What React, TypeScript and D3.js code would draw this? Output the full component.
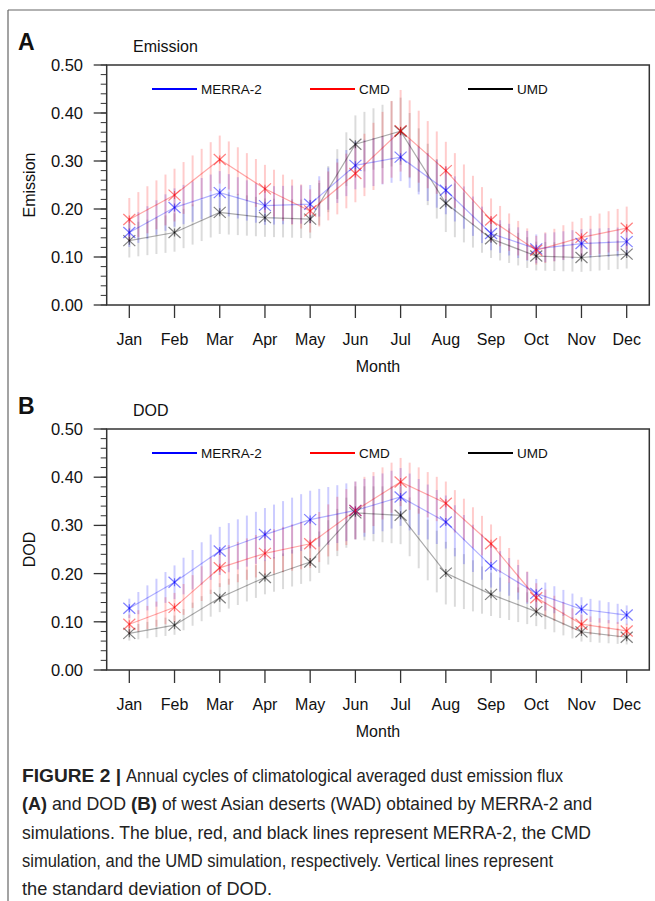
import React from "react";
import * as d3 from "d3";

const months = ["Jan", "Feb", "Mar", "Apr", "May", "Jun", "Jul", "Aug", "Sep", "Oct", "Nov", "Dec"];
const yTicks = [0, 0.1, 0.2, 0.3, 0.4, 0.5];
const seriesNames = ["MERRA-2", "CMD", "UMD"];
const seriesColors = ["#0000ff", "#ff0000", "#000000"];

// Panel A: Emission
const emisMerra = [0.151, 0.203, 0.234, 0.207, 0.21, 0.291, 0.308, 0.239, 0.149, 0.117, 0.128, 0.132];
const emisCmd = [0.178, 0.229, 0.303, 0.242, 0.196, 0.274, 0.363, 0.28, 0.177, 0.114, 0.141, 0.16];
const emisUmd = [0.134, 0.151, 0.193, 0.182, 0.179, 0.335, 0.362, 0.212, 0.138, 0.102, 0.099, 0.106];
const emisMerraSd = [0.03, 0.04, 0.045, 0.04, 0.04, 0.05, 0.05, 0.05, 0.035, 0.03, 0.03, 0.03];
const emisCmdSd = [0.045, 0.055, 0.05, 0.05, 0.045, 0.06, 0.085, 0.06, 0.045, 0.03, 0.04, 0.045];
const emisUmdSd = [0.035, 0.04, 0.045, 0.04, 0.04, 0.06, 0.07, 0.06, 0.04, 0.03, 0.03, 0.03];

// Panel B: DOD
const dodMerra = [0.128, 0.182, 0.247, 0.281, 0.312, 0.331, 0.359, 0.307, 0.216, 0.159, 0.126, 0.114];
const dodCmd = [0.095, 0.13, 0.212, 0.242, 0.262, 0.331, 0.39, 0.346, 0.262, 0.15, 0.095, 0.081];
const dodUmd = [0.076, 0.093, 0.15, 0.192, 0.224, 0.326, 0.321, 0.201, 0.157, 0.121, 0.079, 0.068];
const dodMerraSd = [0.02, 0.035, 0.05, 0.055, 0.06, 0.06, 0.06, 0.055, 0.045, 0.03, 0.025, 0.02];
const dodCmdSd = [0.02, 0.03, 0.04, 0.045, 0.05, 0.06, 0.05, 0.045, 0.04, 0.03, 0.02, 0.015];
const dodUmdSd = [0.015, 0.02, 0.03, 0.035, 0.04, 0.055, 0.06, 0.065, 0.045, 0.03, 0.02, 0.015];

// Caption segments: [line, text, bold, x0, x1]
const captionSegs: [number, string, boolean, number, number][] = [
  [0, "FIGURE 2 |", true, 22, 121],
  [0, "Annual cycles of climatological averaged dust emission flux", false, 126, 563],
  [1, "(A)", true, 22, 47],
  [1, "and DOD", false, 52, 126],
  [1, "(B)", true, 131, 157],
  [1, "of west Asian deserts (WAD) obtained by MERRA-2 and", false, 162, 592],
  [2, "simulations. The blue, red, and black lines represent MERRA-2, the CMD", false, 22, 591],
  [3, "simulation, and the UMD simulation, respectively. Vertical lines represent", false, 22, 553],
  [4, "the standard deviation of DOD.", false, 22, 272],
];

const FONT = "'Liberation Sans', Arial, Helvetica, sans-serif";

function interp(arr: number[], t: number) {
  const i = Math.min(Math.floor(t), arr.length - 2);
  const f = t - i;
  return arr[i] * (1 - f) + arr[i + 1] * f;
}

type PanelProps = {
  top: number;
  bottom: number;
  letter: string;
  title: string;
  yLabel: string;
  means: number[][];
  sds: number[][];
};

function Panel({ top, bottom, letter, title, yLabel, means, sds }: PanelProps) {
  const left = 106.7;
  const right = 649.3;
  const x = d3.scaleLinear().domain([-0.5, 11.5]).range([left, right]);
  const y = d3.scaleLinear().domain([0, 0.5]).range([bottom, top]);
  const minor = d3.range(0, 0.5001, 0.02);
  const positions = d3.range(0, 11.0001, 0.2);
  const line = d3.line<number>().x((_, i) => x(i)).y((d) => y(d));
  const order = [2, 0, 1];
  const sdOpacity = [0.2, 0.2, 0.14];
  const lineOpacity = [0.3, 0.35, 0.33];
  return (
    <g>
      <text x={18} y={top - 15} fontFamily={FONT} fontWeight="bold" fontSize={23} fill="#111">{letter}</text>
      <text x={133} y={top - 13} fontFamily={FONT} fontSize={16} fill="#111">{title}</text>
      {order.map((s) => (
        <g key={"sd" + s}>
          {positions.map((t, k) => {
            const m = interp(means[s], t);
            const sd = interp(sds[s], t);
            return (
              <line key={k} x1={x(t)} x2={x(t)} y1={y(m - sd)} y2={y(m + sd)}
                stroke={seriesColors[s]} strokeOpacity={sdOpacity[s]} strokeWidth={2} />
            );
          })}
        </g>
      ))}
      {order.map((s) => (
        <path key={"ln" + s} d={line(means[s]) || ""} fill="none" stroke={seriesColors[s]}
          strokeOpacity={lineOpacity[s]} strokeWidth={1.2} />
      ))}
      {order.map((s) => (
        <g key={"mk" + s} stroke={seriesColors[s]} strokeOpacity={0.5} strokeWidth={1.2}>
          {means[s].map((v, i) => {
            const cx = x(i);
            const cy = y(v);
            return (
              <g key={i}>
                <line x1={cx - 6} x2={cx + 6} y1={cy - 5.5} y2={cy + 5.5} />
                <line x1={cx - 6} x2={cx + 6} y1={cy + 5.5} y2={cy - 5.5} />
                <line x1={cx} x2={cx} y1={cy - 4} y2={cy + 4} />
              </g>
            );
          })}
        </g>
      ))}
      <rect x={left} y={top} width={right - left} height={bottom - top} fill="none" stroke="#333" strokeWidth={1.5} />
      {minor.map((v, i) => (
        <line key={"mn" + i} x1={left - 6} x2={left} y1={y(v)} y2={y(v)} stroke="#333" strokeWidth={1} />
      ))}
      {yTicks.map((v) => (
        <g key={"yt" + v}>
          <line x1={left - 13} x2={left} y1={y(v)} y2={y(v)} stroke="#333" strokeWidth={1.3} />
          <text x={83} y={y(v)} dy="0.36em" textAnchor="end" fontFamily={FONT} fontSize={16.5} fill="#111">{v.toFixed(2)}</text>
        </g>
      ))}
      {months.map((m, i) => (
        <g key={m}>
          <line x1={x(i)} x2={x(i)} y1={bottom} y2={bottom + 13} stroke="#333" strokeWidth={1.3} />
          <text x={x(i)} y={bottom + 34} dy="0.36em" textAnchor="middle" fontFamily={FONT} fontSize={16} fill="#111">{m}</text>
        </g>
      ))}
      <text x={(left + right) / 2} y={bottom + 61} dy="0.36em" textAnchor="middle" fontFamily={FONT} fontSize={16} fill="#111">Month</text>
      <text transform={`translate(29,${(top + bottom) / 2}) rotate(-90)`} dy="0.36em" textAnchor="middle" fontFamily={FONT} fontSize={16} fill="#111">{yLabel}</text>
      {[152, 310, 468].map((lx, s) => (
        <g key={"lg" + s}>
          <line x1={lx} x2={lx + 45} y1={top + 24} y2={top + 24} stroke={seriesColors[s]} strokeWidth={1.8} />
          <text x={lx + 49} y={top + 24} dy="0.36em" fontFamily={FONT} fontSize={13.5} fill="#111">{seriesNames[s]}</text>
        </g>
      ))}
    </g>
  );
}

export default function App() {
  const capY = [782, 810, 839, 867, 895];
  return (
    <svg width={655} height={901} style={{ position: "absolute", left: 0, top: 0, background: "#fff" }}>
      <rect x={0} y={0} width={655} height={901} fill="#fff" />
      <line x1={8} x2={655} y1={10} y2={10} stroke="#666" strokeWidth={1.2} />
      <line x1={8} x2={8} y1={10} y2={901} stroke="#666" strokeWidth={1.2} />
      <Panel top={65} bottom={305} letter="A" title="Emission" yLabel="Emission"
        means={[emisMerra, emisCmd, emisUmd]} sds={[emisMerraSd, emisCmdSd, emisUmdSd]} />
      <Panel top={429} bottom={670} letter="B" title="DOD" yLabel="DOD"
        means={[dodMerra, dodCmd, dodUmd]} sds={[dodMerraSd, dodCmdSd, dodUmdSd]} />
      <g fontFamily={FONT} fontSize={18.5} fill="#222">
        {captionSegs.map(([ln, t, b, x0, x1], i) => (
          <text key={i} x={x0} y={capY[ln]} fontWeight={b ? "bold" : "normal"}
            textLength={x1 - x0} lengthAdjust="spacingAndGlyphs">{t}</text>
        ))}
      </g>
    </svg>
  );
}
